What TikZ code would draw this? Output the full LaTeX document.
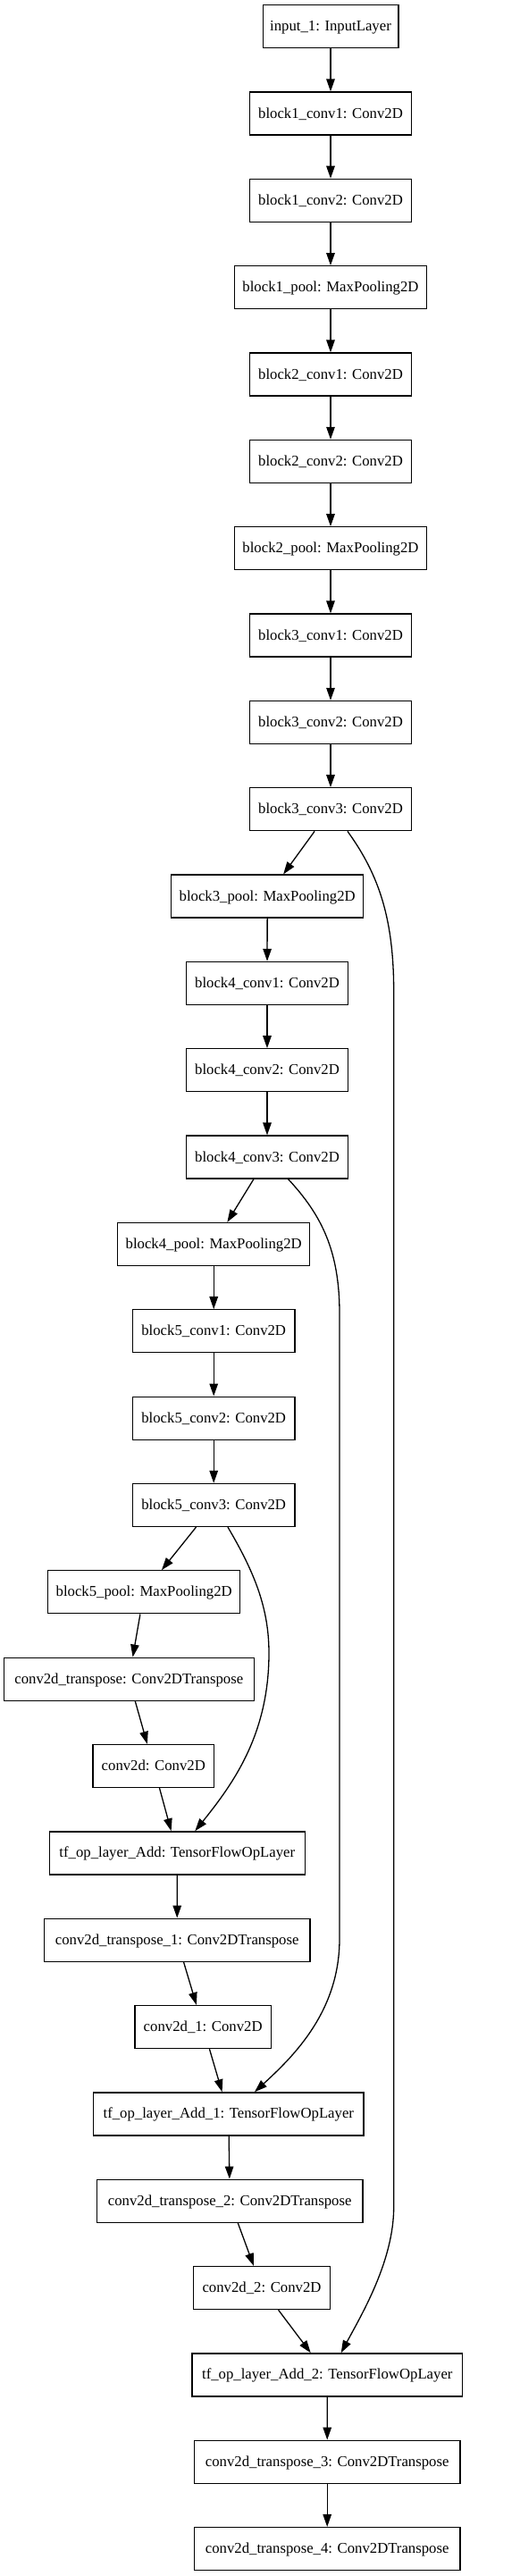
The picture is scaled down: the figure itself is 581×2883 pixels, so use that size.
\documentclass[tikz,border=0pt]{standalone}
\usepackage{fontspec}
\setmainfont{Liberation Serif}
\usetikzlibrary{arrows.meta}
\begin{document}
\begin{tikzpicture}[x=1pt,y=-1pt,
  layer/.style={draw=black, line width=1.3pt, minimum height=48pt, inner sep=0pt,
    text height=14pt, text depth=4pt, font=\fontsize{16.73}{20}\selectfont, anchor=center},
  conn/.style={line width=1.3pt, -{Triangle[length=14pt,width=9.5pt]}}]
\useasboundingbox (0,0) rectangle (581,2883);
\node[layer, minimum width=151.7pt] (in1)  at (370,29.7)    {input\_1: InputLayer};
\node[layer, minimum width=181.3pt] (b1c1) at (370,127.04)  {block1\_conv1: Conv2D};
\node[layer, minimum width=181.3pt] (b1c2) at (370,224.38)  {block1\_conv2: Conv2D};
\node[layer, minimum width=215pt]   (b1p)  at (370,321.72)  {block1\_pool: MaxPooling2D};
\node[layer, minimum width=181.3pt] (b2c1) at (370,419.06)  {block2\_conv1: Conv2D};
\node[layer, minimum width=181.3pt] (b2c2) at (370,516.4)   {block2\_conv2: Conv2D};
\node[layer, minimum width=215pt]   (b2p)  at (370,613.74)  {block2\_pool: MaxPooling2D};
\node[layer, minimum width=181.3pt] (b3c1) at (370,711.08)  {block3\_conv1: Conv2D};
\node[layer, minimum width=181.3pt] (b3c2) at (370,808.42)  {block3\_conv2: Conv2D};
\node[layer, minimum width=181.3pt] (b3c3) at (370,905.76)  {block3\_conv3: Conv2D};
\node[layer, minimum width=215pt]   (b3p)  at (299.2,1003.1) {block3\_pool: MaxPooling2D};
\node[layer, minimum width=181.3pt] (b4c1) at (299,1100.44) {block4\_conv1: Conv2D};
\node[layer, minimum width=181.3pt] (b4c2) at (299,1197.78) {block4\_conv2: Conv2D};
\node[layer, minimum width=181.3pt] (b4c3) at (299,1295.12) {block4\_conv3: Conv2D};
\node[layer, minimum width=215pt]   (b4p)  at (239.2,1392.46) {block4\_pool: MaxPooling2D};
\node[layer, minimum width=181.3pt] (b5c1) at (239.2,1489.8) {block5\_conv1: Conv2D};
\node[layer, minimum width=181.3pt] (b5c2) at (239.2,1587.14) {block5\_conv2: Conv2D};
\node[layer, minimum width=181.3pt] (b5c3) at (239.2,1684.48) {block5\_conv3: Conv2D};
\node[layer, minimum width=215pt]   (b5p)  at (161.2,1781.82) {block5\_pool: MaxPooling2D};
\node[layer, minimum width=280pt]   (ct)   at (144.3,1879.16) {conv2d\_transpose: Conv2DTranspose};
\node[layer, minimum width=135.7pt] (c2d)  at (171.8,1976.5) {conv2d: Conv2D};
\node[layer, minimum width=286pt]   (add)  at (198.3,2073.84) {tf\_op\_layer\_Add: TensorFlowOpLayer};
\node[layer, minimum width=297.7pt] (ct1)  at (198.2,2171.18) {conv2d\_transpose\_1: Conv2DTranspose};
\node[layer, minimum width=152.4pt] (c2d1) at (227.2,2268.52) {conv2d\_1: Conv2D};
\node[layer, minimum width=302.4pt] (add1) at (255.8,2365.86) {tf\_op\_layer\_Add\_1: TensorFlowOpLayer};
\node[layer, minimum width=297.7pt] (ct2)  at (257.2,2463.2) {conv2d\_transpose\_2: Conv2DTranspose};
\node[layer, minimum width=152.6pt] (c2d2) at (293,2560.54) {conv2d\_2: Conv2D};
\node[layer, minimum width=302.6pt] (add2) at (366.3,2657.88) {tf\_op\_layer\_Add\_2: TensorFlowOpLayer};
\node[layer, minimum width=297.7pt] (ct3)  at (366.2,2755.22) {conv2d\_transpose\_3: Conv2DTranspose};
\node[layer, minimum width=297.7pt] (ct4)  at (366.2,2852.56) {conv2d\_transpose\_4: Conv2DTranspose};
\foreach \a/\b in {in1/b1c1, b1c1/b1c2, b1c2/b1p, b1p/b2c1, b2c1/b2c2, b2c2/b2p, b2p/b3c1,
  b3c1/b3c2, b3c2/b3c3, b3c3/b3p, b3p/b4c1, b4c1/b4c2, b4c2/b4c3, b4c3/b4p, b4p/b5c1,
  b5c1/b5c2, b5c2/b5c3, b5c3/b5p, b5p/ct, ct/c2d, c2d/add, add/ct1, ct1/c2d1, c2d1/add1,
  add1/ct2, ct2/c2d2, c2d2/add2, add2/ct3, ct3/ct4}
  \draw[conn] (\a) -- (\b);
\draw[conn] ([xshift=19pt]b3c3.south) .. controls (425,980) and (440.7,1030) .. (440.7,1110)
  -- (440.7,2470) .. controls (440.7,2530) and (405,2590) .. ([xshift=15.4pt]add2.north);
\draw[conn] ([xshift=23.7pt]b4c3.south) .. controls (360,1360) and (380,1400) .. (380,1470)
  -- (380,2170) .. controls (380,2250) and (330,2300) .. ([xshift=29.2pt]add1.north);
\draw[conn] ([xshift=15.8pt]b5c3.south) .. controls (285,1760) and (301,1800) .. (301,1850)
  .. controls (301,1940) and (262,1995) .. ([xshift=20pt]add.north);
\end{tikzpicture}
\end{document}
